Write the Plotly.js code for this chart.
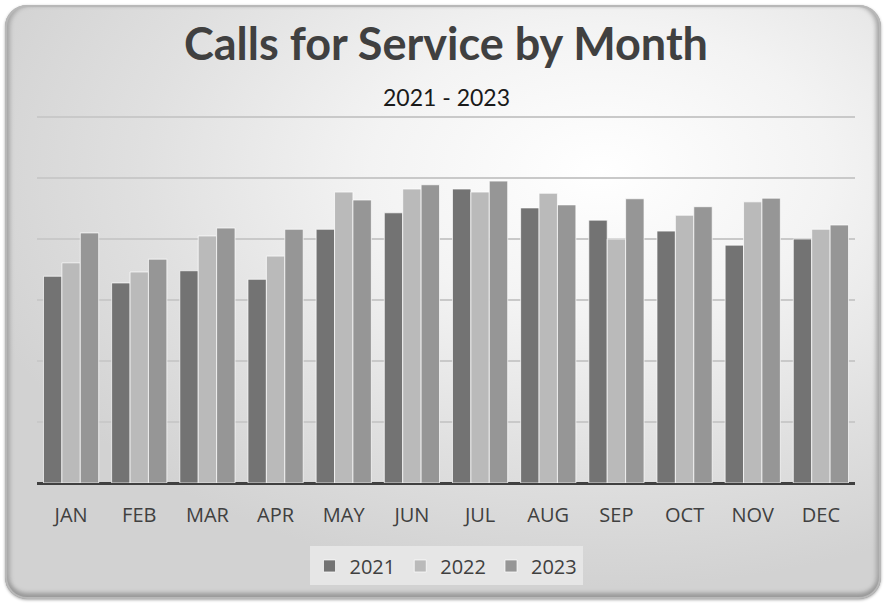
<!DOCTYPE html>
<html>
<head>
<meta charset="utf-8">
<script src="https://cdn.plot.ly/plotly-3.0.1.min.js"></script>
<style>
  html, body { margin: 0; padding: 0; background: #ffffff; }
  #frame {
    position: absolute; left: 5px; top: 5px; width: 876px; height: 594px;
    border-radius: 22px;
    background: radial-gradient(ellipse 75% 70% at 68% 28%, #ffffff 0%, #f3f3f3 35%, #e0e0e0 70%, #d2d2d2 100%);
    box-shadow: inset 0 0 0 2px #b8b8b8, inset 0 -6px 4px #9a9a9a, inset 5px 0 4px #a8a8a8, inset -5px 0 4px #a8a8a8, 0 1px 3px rgba(0,0,0,0.35);
  }
  #chart { position: absolute; left: 0; top: 0; width: 890px; height: 605px; }
</style>
</head>
<body>
<div id="frame"></div>
<div id="chart"></div>
<script>
const months = ["JAN","FEB","MAR","APR","MAY","JUN","JUL","AUG","SEP","OCT","NOV","DEC"];
const years = ["2021","2022","2023"];
const calls2021 = [3390, 3280, 3480, 3340, 4160, 4430, 4820, 4510, 4310, 4130, 3900, 4000];
const calls2022 = [3610, 3460, 4050, 3720, 4770, 4820, 4770, 4750, 4000, 4390, 4610, 4160];
const calls2023 = [4100, 3670, 4180, 4160, 4640, 4890, 4950, 4560, 4660, 4530, 4670, 4230];
const colors = ["#737373", "#bababa", "#969696"];

const series = [calls2021, calls2022, calls2023];
const traces = series.map((vals, i) => ({
  type: "bar",
  name: years[i],
  x: months,
  y: vals,
  marker: { color: colors[i], line: { color: "rgba(255,255,255,0.7)", width: 1 } },
  hoverinfo: "x+y+name"
}));

const layout = {
  width: 890, height: 605,
  paper_bgcolor: "rgba(0,0,0,0)",
  plot_bgcolor: "rgba(0,0,0,0)",
  margin: { l: 37, r: 35, t: 114, b: 122 },
  barmode: "group",
  bargap: 0.19,
  bargroupgap: 0.0,
  font: { family: "Lato, 'Open Sans', sans-serif", color: "#404040" },
  xaxis: {
    tickfont: { size: 20, color: "#404040", family: "'Open Sans', Lato, sans-serif" },
    ticks: "",
    ticklabelstandoff: 18,
    showgrid: false,
    showline: false,
    zeroline: false
  },
  yaxis: {
    range: [0, 6050],
    dtick: 1000,
    showticklabels: false,
    ticks: "",
    showgrid: true,
    gridcolor: "#c9c9c9",
    gridwidth: 2,
    zeroline: true,
    zerolinecolor: "#404040",
    zerolinewidth: 3,
    showline: false
  },
  showlegend: true,
  legend: {
    orientation: "h",
    x: 0.5, xanchor: "center",
    y: -0.172, yanchor: "top",
    bgcolor: "rgba(232,232,232,0.9)",
    font: { size: 20, color: "#404040", family: "'Open Sans', Lato, sans-serif" },
    itemwidth: 30,
    traceorder: "normal"
  },
  annotations: [
    { text: "<b>Calls for Service by Month</b>", xref: "paper", yref: "paper", x: 0.5, y: 1, yshift: 71,
      xanchor: "center", yanchor: "middle", showarrow: false,
      font: { size: 45, color: "#404040", family: "Lato, 'Open Sans', sans-serif" } },
    { text: "2021 - 2023", xref: "paper", yref: "paper", x: 0.5, y: 1, yshift: 17,
      xanchor: "center", yanchor: "middle", showarrow: false,
      font: { size: 23, color: "#1a1a1a", family: "Lato, 'Open Sans', sans-serif" } }
  ]
};

Plotly.newPlot("chart", traces, layout, { displayModeBar: false, staticPlot: false });
</script>
</body>
</html>
